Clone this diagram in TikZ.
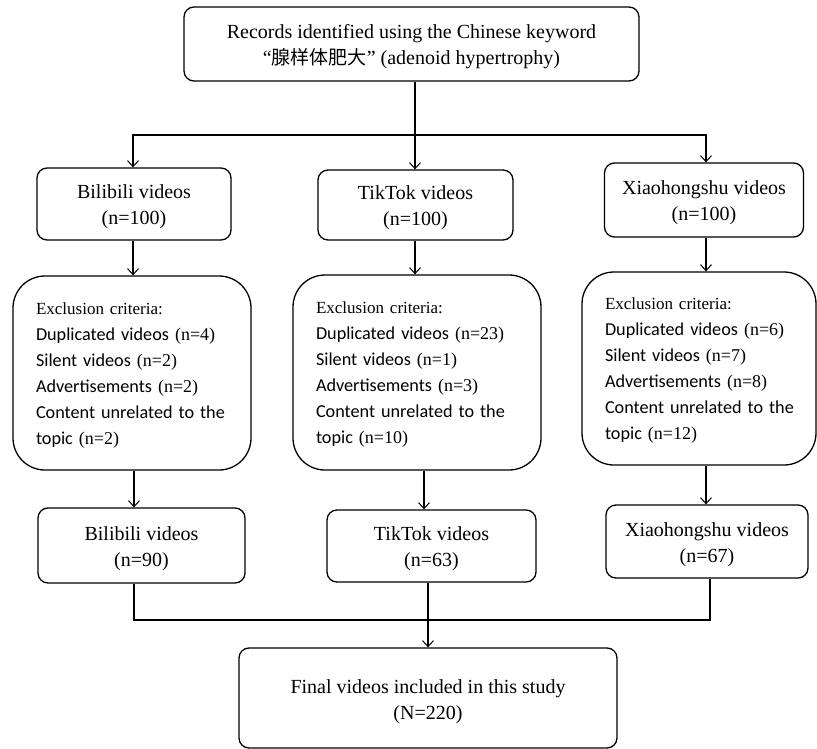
\documentclass[tikz,border=0pt]{standalone}
\usepackage{fontspec}
\setmainfont{Liberation Serif}
\newfontfamily\calfont{Carlito}
\newfontfamily\cjk{Noto Sans CJK SC}
\usetikzlibrary{arrows.meta}
\newcommand{\topstrut}[1]{\rule{0pt}{#1}}
\newcommand{\botstrut}{\rule[-6pt]{0pt}{6pt}}
\newcommand{\sanstxt}[1]{{\calfont\fontsize{18.2}{26}\selectfont\mbox{#1}}}
\newcommand{\exhead}{\rule{0pt}{16pt}{\fontsize{17}{26}\selectfont Exclusion criteria:}}
\begin{document}
\begin{tikzpicture}[x=1pt,y=-1pt,
  box/.style={draw, line width=1.3pt, rounded corners=10pt, align=center, inner sep=0pt,
    font=\fontsize{20}{26}\selectfont},
  exbox/.style={draw, line width=1.3pt, rounded corners=32pt, align=left, inner sep=0pt,
    font=\fontsize{18}{26}\selectfont},
  conn/.style={line width=1.1pt},
  arr/.style={conn, -{Straight Barb[length=6pt,width=11pt,line width=1pt]}}
]
\useasboundingbox (0,0) rectangle (817,749);

% top
\node[box, minimum width=455pt, minimum height=74pt] (top) at (411.5,44)
  {\topstrut{22pt}Records identified using the Chinese keyword\\“{\cjk\fontsize{19}{26}\selectfont 腺样体肥大}” (adenoid hypertrophy)\botstrut};

% row 1
\node[box, minimum width=194pt, minimum height=72pt] (b1) at (134,204) {\topstrut{21.5pt}Bilibili videos\\(n=100)\botstrut};
\node[box, minimum width=195pt, minimum height=70pt] (t1) at (415.5,205) {\topstrut{21.5pt}TikTok videos\\(n=100)\botstrut};
\node[box, minimum width=199pt, minimum height=74pt] (x1) at (704,200) {\topstrut{21.5pt}Xiaohongshu videos\\(n=100)\botstrut};

% exclusion
\node[exbox, minimum width=238pt, minimum height=194pt, text width=192pt] (e1) at (132,373)
  {\exhead\\
   \sanstxt{Duplicated videos} (n=4)\\
   \sanstxt{Silent videos} (n=2)\\
   \sanstxt{Advertisements} (n=2)\\
   \sanstxt{Content unrelated to the}\\
   \sanstxt{topic} (n=2)};
\node[exbox, minimum width=248pt, minimum height=195pt, text width=202pt] (e2) at (417,372.5)
  {\exhead\\
   \sanstxt{Duplicated videos} (n=23)\\
   \sanstxt{Silent videos} (n=1)\\
   \sanstxt{Advertisements} (n=3)\\
   \sanstxt{Content unrelated to the}\\
   \sanstxt{topic} (n=10)};
\node[exbox, minimum width=234pt, minimum height=193pt, text width=188pt] (e3) at (699,368.5)
  {\exhead\\
   \sanstxt{Duplicated videos} (n=6)\\
   \sanstxt{Silent videos} (n=7)\\
   \sanstxt{Advertisements} (n=8)\\
   \sanstxt{Content unrelated to the}\\
   \sanstxt{topic} (n=12)};

% row 3
\node[box, minimum width=207pt, minimum height=75pt] (b2) at (141.5,545.5) {\topstrut{21.5pt}Bilibili videos\\(n=90)\botstrut};
\node[box, minimum width=209pt, minimum height=72pt] (t2) at (431.5,546) {\topstrut{21.5pt}TikTok videos\\(n=63)\botstrut};
\node[box, minimum width=202pt, minimum height=73pt] (x2) at (707,541.5) {\topstrut{21.5pt}Xiaohongshu videos\\(n=67)\botstrut};

% final
\node[box, minimum width=378pt, minimum height=100pt] (fin) at (428,698)
  {\topstrut{22pt}Final videos included in this study\\(N=220)\botstrut};

% connectors top
\coordinate (j1) at (415,135);
\draw[conn] (top.south -| j1) -- (j1);
\draw[arr] (j1) -| (b1.north -| 133,0);
\draw[arr] (j1) -- (t1.north -| j1);
\draw[arr] (j1) -| (x1.north -| 706,0);

% row1 -> exclusion
\draw[arr] (b1.south -| 133,0) -- (e1.north -| 133,0);
\draw[arr] (t1.south -| 415,0) -- (e2.north -| 415,0);
\draw[arr] (x1.south -| 706,0) -- (e3.north -| 706,0);

% exclusion -> row3
\draw[arr] (e1.south -| 134,0) -- (b2.north -| 134,0);
\draw[arr] (e2.south -| 424,0) -- (t2.north -| 424,0);
\draw[arr] (e3.south -| 706,0) -- (x2.north -| 706,0);

% row3 -> final
\coordinate (j2) at (428,620);
\draw[conn] (b2.south -| 134,0) |- (j2);
\draw[conn] (x2.south -| 710,0) |- (j2);
\draw[arr] (t2.south -| j2) -- (fin.north -| j2);
\end{tikzpicture}
\end{document}
